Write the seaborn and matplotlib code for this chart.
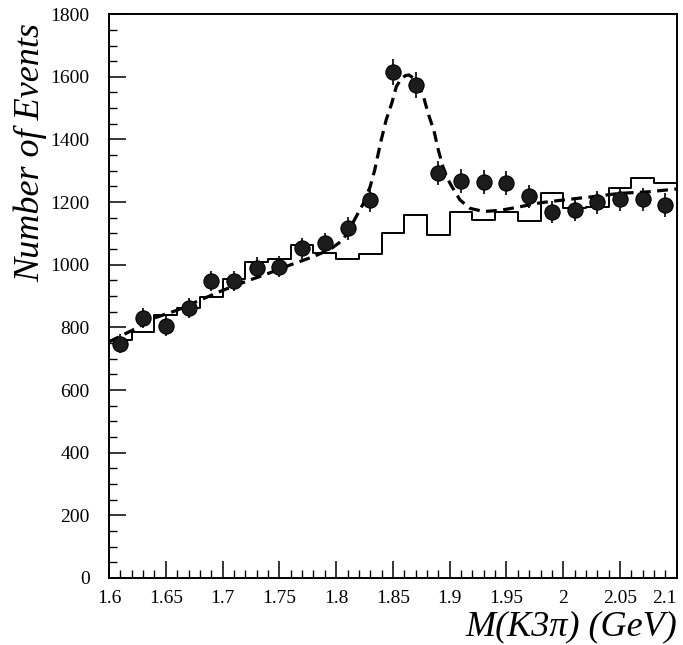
import numpy as np
import pandas as pd
import matplotlib
matplotlib.use('Agg')
import matplotlib.pyplot as plt
from matplotlib.ticker import MultipleLocator, FixedLocator, FixedFormatter
import seaborn as sns

# data points (bin centres, events)
mass = [1.61, 1.63, 1.65, 1.67, 1.69, 1.71, 1.73, 1.75, 1.77, 1.79, 1.81, 1.83, 1.85,
        1.87, 1.89, 1.91, 1.93, 1.95, 1.97, 1.99, 2.01, 2.03, 2.05, 2.07, 2.09]
events = [748, 829, 805, 861, 948, 948, 990, 994, 1052, 1068, 1116, 1206, 1616,
          1573, 1294, 1267, 1265, 1262, 1219, 1169, 1175, 1199, 1210, 1209, 1191]
errors = [30, 32, 31, 32, 33, 33, 34, 34, 35, 35, 36, 37, 42,
          42, 38, 38, 38, 38, 37, 36, 36, 37, 37, 37, 37]

# solid histogram (same bins)
bin_edges = [1.60, 1.62, 1.64, 1.66, 1.68, 1.70, 1.72, 1.74, 1.76, 1.78, 1.80, 1.82, 1.84,
             1.86, 1.88, 1.90, 1.92, 1.94, 1.96, 1.98, 2.00, 2.02, 2.04, 2.06, 2.08, 2.10]
hist_counts = [760, 786, 839, 863, 896, 956, 1008, 1020, 1063, 1039, 1017, 1034, 1102,
               1159, 1095, 1169, 1143, 1169, 1139, 1228, 1180, 1185, 1244, 1276, 1260]

# dashed fit curve
fit_x = [1.600, 1.620, 1.640, 1.660, 1.680, 1.700, 1.720, 1.740, 1.760, 1.780, 1.795,
         1.806, 1.812, 1.824, 1.830, 1.834, 1.839, 1.844, 1.849, 1.853, 1.857, 1.861,
         1.864, 1.868, 1.873, 1.877, 1.881, 1.886, 1.890, 1.894, 1.898, 1.902, 1.909,
         1.918, 1.930, 1.945, 1.960, 1.980, 2.005, 2.025, 2.050, 2.075, 2.100]
fit_y = [754, 790, 830, 855, 887, 918, 946, 972, 1000, 1026, 1050,
         1079, 1116, 1196, 1250, 1303, 1388, 1462, 1516, 1569, 1592, 1604,
         1606, 1596, 1570, 1536, 1483, 1430, 1366, 1313, 1275, 1249, 1207,
         1180, 1170, 1174, 1184, 1198, 1209, 1217, 1228, 1233, 1242]

xtick_vals = [1.6, 1.65, 1.7, 1.75, 1.8, 1.85, 1.9, 1.95, 2.0, 2.05, 2.1]
xtick_labels = ['1.6', '1.65', '1.7', '1.75', '1.8', '1.85', '1.9', '1.95', '2', '2.05', '2.1']

sns.set_style('ticks')
plt.rcParams['font.family'] = ['Liberation Serif', 'DejaVu Serif']
plt.rcParams.update({'text.color': 'black', 'axes.labelcolor': 'black',
                     'xtick.color': 'black', 'ytick.color': 'black',
                     'axes.edgecolor': 'black'})

fig = plt.figure(figsize=(6.83, 6.45), dpi=100)
ax = fig.add_axes([0.1596, 0.1039, 0.8314, 0.8741])

centres = [(bin_edges[i] + bin_edges[i + 1]) / 2 for i in range(len(hist_counts))]
sns.histplot(x=centres, weights=hist_counts, bins=bin_edges, element='step', fill=False,
             color='black', linewidth=1.4, ax=ax)

fit_df = pd.DataFrame({'x': fit_x, 'y': fit_y})
sns.lineplot(data=fit_df, x='x', y='y', color='black', linewidth=2.3,
             linestyle=(0, (3.4, 2.0)), sort=False, ax=ax)

ax.errorbar(mass, events, yerr=errors, fmt='none', ecolor='black', elinewidth=1.2, zorder=3)
pts = pd.DataFrame({'mass': mass, 'events': events})
sns.scatterplot(data=pts, x='mass', y='events', s=120, color='#1c1c1c', edgecolor='black',
                linewidth=0.8, zorder=4, ax=ax)

ax.set_xlim(1.6, 2.1)
ax.set_ylim(0, 1800)
ax.xaxis.set_major_locator(FixedLocator(xtick_vals))
ax.xaxis.set_major_formatter(FixedFormatter(xtick_labels))
ax.xaxis.set_minor_locator(MultipleLocator(0.01))
ax.yaxis.set_major_locator(MultipleLocator(200))
ax.yaxis.set_minor_locator(MultipleLocator(50))
ax.tick_params(which='major', direction='in', length=12, width=1.1, labelsize=14,
               top=False, right=False)
ax.tick_params(axis='y', which='major', pad=14)
ax.tick_params(axis='x', which='major', pad=9)
ax.tick_params(which='minor', direction='in', length=6, width=1.0, top=False, right=False)
for sp in ax.spines.values():
    sp.set_visible(True)
    sp.set_linewidth(1.4)

# last x label sits inside the frame, as in the original
ax.get_xticklabels()[-1].set_horizontalalignment('right')

ax.set_xlabel('M(K3π) (GeV)', fontsize=26, fontstyle='italic', loc='right', labelpad=2)
ax.set_ylabel('Number of Events', fontsize=26, fontstyle='italic', loc='top', labelpad=6)
ax.yaxis.set_label_coords(-0.108, 0.985)

fig.savefig('out.png', dpi=100)
